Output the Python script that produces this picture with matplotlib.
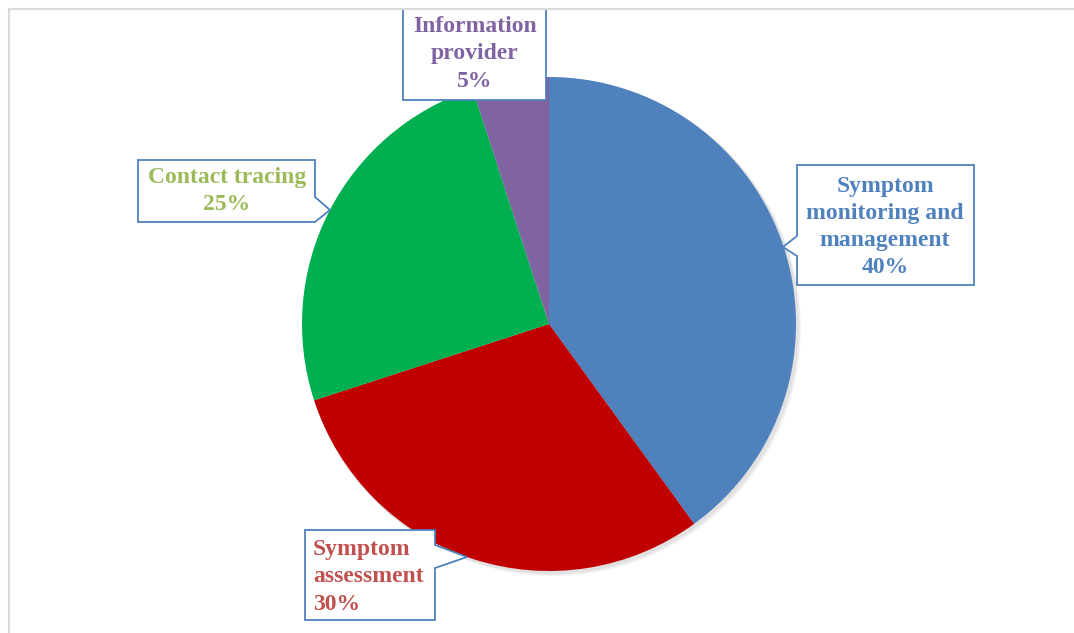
import matplotlib.pyplot as plt
from matplotlib.patches import Polygon, Circle

# data
labels = ['Symptom\nmonitoring and\nmanagement', 'Symptom\nassessment', 'Contact tracing', 'Information\nprovider']
values = [40, 30, 25, 5]
wedge_colors = ['#4F81BD', '#C00000', '#00B050', '#8064A2']
text_colors = ['#4F81BD', '#C0504D', '#9BBB59', '#8064A2']

W, H = 1074, 633
fig = plt.figure(figsize=(W / 100, H / 100), dpi=100)
ax = fig.add_axes([0, 0, 1, 1])

def Y(y):
    # pixel row -> data y
    return H - y

cx, cy, r = 549, Y(324), 247

# soft shadow
for k in range(3):
    ax.add_patch(Circle((cx + 2 + k, cy - 2 - k), r + 1, color='black', alpha=0.04, lw=0, zorder=1))

ax.pie(values, colors=wedge_colors, startangle=90, counterclock=False,
       center=(cx, cy), radius=r, frame=True,
       wedgeprops=dict(linewidth=0, zorder=2))
ax.set_xlim(0, W)
ax.set_ylim(0, H)
ax.set_aspect('equal')
ax.axis('off')

box_kw = dict(facecolor='white', edgecolor='#4F81BD', lw=1.3, zorder=5, joinstyle='miter')
font = dict(family='Liberation Serif', weight='bold', fontsize=17, zorder=6, linespacing=1.38)

# callout shapes (pixel coords)
callouts = [
    [(797, 165), (974, 165), (974, 285), (797, 285), (797, 256), (783, 247), (797, 236)],
    [(305, 530), (435, 530), (435, 545), (467, 557), (435, 568), (435, 620), (305, 620)],
    [(138, 160), (315, 160), (315, 197), (330, 210), (315, 222), (138, 222)],
    [(403, 9), (546, 9), (546, 100), (403, 100)],
]
for pts in callouts:
    ax.add_patch(Polygon([(x, Y(y)) for x, y in pts], closed=True, **box_kw))

# chart area border (top and left only visible)
ax.plot([9, W], [Y(9), Y(9)], color='#d9d9d9', lw=1.5, zorder=7)
ax.plot([9, 9], [Y(9), 0], color='#d9d9d9', lw=1.5, zorder=7)

pcts = [f'{v}%' for v in values]
ax.text(885, Y(227), labels[0] + '\n' + pcts[0], color=text_colors[0], ha='center', va='center', **font)
ax.text(313, Y(577), labels[1] + '\n' + pcts[1], color=text_colors[1], ha='left', va='center', **font)
ax.text(227, Y(191), labels[2] + '\n' + pcts[2], color=text_colors[2], ha='center', va='center', **font)
ax.text(475, Y(54), labels[3] + '\n' + pcts[3], color=text_colors[3], ha='center', va='center', **font)

fig.savefig('out.png', dpi=100)
